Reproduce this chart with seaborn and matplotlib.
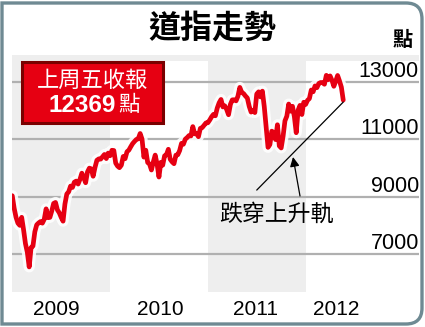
import numpy as np
import pandas as pd
import matplotlib
matplotlib.use('Agg')
import matplotlib.pyplot as plt
import seaborn as sns
from matplotlib.path import Path
from matplotlib.patches import PathPatch, Rectangle
from matplotlib.transforms import Affine2D
import matplotlib.patheffects as pe
import matplotlib.dates as mdates

# ---------------- data ----------------
dow_2009 = [9034, 8599, 8281, 8077, 8000, 8280, 7850, 7366, 7062, 6550, 7224, 7279, 7776,
            8018, 8083, 8131, 8076, 8212, 8575, 8268, 8277, 8500, 8764, 8799, 8539, 8438,
            8280, 8146, 8743, 9093, 9171, 9370, 9321, 9505, 9544, 9441, 9605, 9820, 9665,
            9487, 9865, 9995, 9972, 9713, 10023, 10270, 10318, 10310, 10389, 10471, 10329,
            10520, 10428]
dow_2010 = [10618, 10610, 10172, 10067, 10012, 10099, 10402, 10325, 10567, 10625, 10742,
            10851, 10927, 10997, 11019, 11204, 11009, 10380, 10620, 10193, 10137, 9931,
            10212, 10450, 10144, 9686, 10198, 10098, 10425, 10466, 10653, 10303, 10214,
            10151, 10448, 10462, 10607, 10860, 10829, 11006, 11062, 11133, 11118, 11444,
            11192, 11204, 11092, 11382, 11410, 11491, 11573, 11578]
dow_2011 = [11674, 11787, 11871, 11823, 12092, 12273, 12391, 12130, 12169, 12044, 11859,
            12221, 12377, 12380, 12342, 12505, 12811, 12638, 12596, 12512, 12441, 12151,
            11952, 12004, 11934, 12582, 12657, 12480, 12681, 12143, 11445, 10720, 10818,
            11285, 11240, 10992, 11509, 10771, 10700, 11103, 11644, 11809, 12231, 11983,
            12153, 11796, 11231, 12019, 12184, 11866, 12294, 12218]
dow_2012 = [12360, 12422, 12720, 12660, 12862, 12801, 12950, 12983, 12978, 12922, 13233,
            13081, 13212, 13060, 12850, 13029, 13228, 13038, 12821, 12369]
closes = dow_2009 + dow_2010 + dow_2011 + dow_2012
week_dates = pd.date_range('2009-01-02', periods=len(closes), freq='W-FRI')

year_labels = ['2009', '2010', '2011', '2012']
year_label_dates = ['2009-06-15', '2010-07-08', '2011-06-25', '2012-04-20']
shaded_years = [('2009-01-01', '2010-01-01'), ('2011-01-01', '2012-01-01')]
y_ticks = [7000, 9000, 11000, 13000]

title = '道指走勢'
unit = '點'
box_line1 = '上周五收報'
box_value = '12369'
box_unit = '點'
note_text = '跌穿上升軌'
trend_x = ['2011-07-01', '2012-05-18']
trend_y = [9230, 12300]
arrow_tip = ('2011-11-13', 10384)

df = pd.DataFrame({'date': week_dates, 'close': closes})

# ---------------- style ----------------
sns.set_theme(style='white')
plt.rcParams['font.family'] = ['Liberation Sans', 'Noto Sans CJK TC', 'DejaVu Sans']
CJK = ['Noto Sans CJK TC', 'DejaVu Sans']

W, H = 425, 327
fig = plt.figure(figsize=(W / 100, H / 100), dpi=100)
pix = Affine2D().scale(1 / W, 1 / H) + fig.transFigure  # pixel coords (y up)

ax = fig.add_axes([12 / W, (H - 292) / H, 407 / W, 237 / H])
ax.set_facecolor('white')

for a, b in shaded_years:
    ax.axvspan(pd.Timestamp(a), pd.Timestamp(b), color='#eeeeee', lw=0, zorder=0)
# thin grey header strip along the top of the plot area
ax.axhspan(13720, 13942, color='#eeeeee', lw=0, zorder=0)

sns.lineplot(data=df, x='date', y='close', ax=ax, color='#e60012', lw=3.4,
             zorder=3,
             path_effects=[pe.Stroke(linewidth=8, foreground='white', alpha=0.85),
                           pe.Normal()])

ax.set_xlim(pd.Timestamp('2009-01-01'), pd.Timestamp('2013-02-24'))
ax.set_ylim(5675, 13942)
ax.set_yticks(y_ticks)
ax.yaxis.grid(True, color='#b0b0b0', lw=1.6)
ax.set_axisbelow(True)
ax.yaxis.tick_right()
ax.tick_params(axis='y', length=0, pad=0, labelsize=15.5, labelcolor='black')
for lbl in ax.get_yticklabels():
    lbl.set_ha('right')
    lbl.set_va('bottom')
ax.set_xticks([pd.Timestamp(d) for d in year_label_dates])
ax.set_xticklabels(year_labels)
ax.tick_params(axis='x', length=0, pad=5.5, labelsize=15, labelcolor='black')
ax.set_xlabel('')
ax.set_ylabel('')
for s in ax.spines.values():
    s.set_visible(False)

# trend line + annotation
ax.plot([pd.Timestamp(t) for t in trend_x], trend_y, color='black', lw=0.9, zorder=4)
ax.annotate('', xy=(pd.Timestamp(arrow_tip[0]), arrow_tip[1]), xycoords='data',
            xytext=(300, H - 196), textcoords=pix,
            arrowprops=dict(arrowstyle='-|>', color='black', lw=0.9,
                            mutation_scale=14, shrinkA=0, shrinkB=0))
fig.text(276, H - 214, note_text, transform=pix, ha='center', va='center',
         fontsize=16.5, family=CJK, color='black')

# red box
fig.patches.append(Rectangle((22, H - 123), 141, 61, transform=pix,
                             facecolor='#e60012', edgecolor='#7a0000', lw=2.2))
fig.text(92.5, H - 80, box_line1, transform=pix, ha='center', va='center',
         fontsize=16, family=CJK, color='white')
fig.text(116, H - 106, box_value, transform=pix, ha='right', va='center',
         fontsize=17.5, fontweight='bold', family=['Liberation Sans'], color='white')
fig.text(118, H - 105, box_unit, transform=pix, ha='left', va='center',
         fontsize=15.5, family=CJK, color='white')

# title & unit
fig.text(212, H - 29, title, transform=pix, ha='center', va='center',
         fontsize=23, fontweight='black', family=CJK, color='black')
fig.text(403, H - 40, unit, transform=pix, ha='center', va='center',
         fontsize=14.5, fontweight='bold', family=CJK, color='black')

# frame with rounded right corners
r = 16
L, R, T, B = 2, 422, H - 3, 3
verts = [(L, T), (R - r, T), (R, T), (R, T - r), (R, B + r), (R, B), (R - r, B), (L, B), (L, T)]
codes = [Path.MOVETO, Path.LINETO, Path.CURVE3, Path.CURVE3, Path.LINETO,
         Path.CURVE3, Path.CURVE3, Path.LINETO, Path.CLOSEPOLY]
fig.patches.append(PathPatch(Path(verts, codes), transform=pix, facecolor='none',
                             edgecolor='#6f8a93', lw=2.4))

fig.savefig('out.png', dpi=100)
